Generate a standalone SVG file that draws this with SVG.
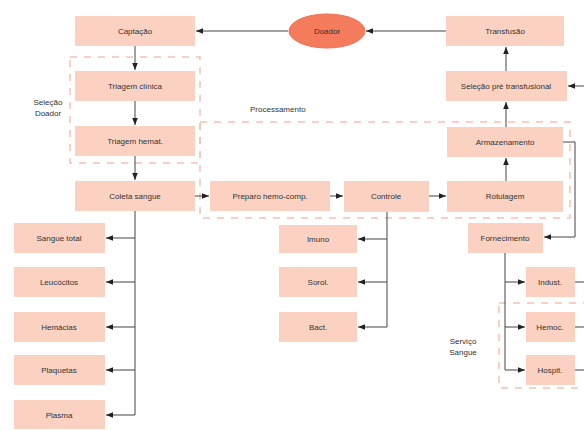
<svg xmlns="http://www.w3.org/2000/svg" width="584" height="430" viewBox="0 0 584 430">
<style>
.b{fill:#fbd2c1}
.t{font-family:"Liberation Sans",Arial,sans-serif;font-size:8px;fill:#333;text-anchor:middle;dominant-baseline:central}
.l{font-family:"Liberation Sans",Arial,sans-serif;font-size:8px;fill:#333}
.d{fill:none;stroke:#f2c3b3;stroke-width:1.5;stroke-dasharray:7,7}
.c{fill:none;stroke:#444;stroke-width:1;marker-end:url(#a)}
.n{fill:none;stroke:#444;stroke-width:1}
</style>
<defs>
<marker id="a" viewBox="0 0 10 10" refX="10" refY="5" markerWidth="7" markerHeight="7" orient="auto" markerUnits="userSpaceOnUse">
<path d="M0,1 L10,5 L0,9 z" fill="#222"/>
</marker>
</defs>
<rect width="584" height="430" fill="#fff"/>
<g id="groups">
<rect class="d" x="70" y="57" width="130" height="106"/>
<text class="l" x="48" y="105" text-anchor="middle">Seleção</text>
<text class="l" x="48" y="116" text-anchor="middle">Doador</text>
<rect class="d" x="200" y="122" width="370" height="96"/>
<text class="l" x="250" y="112">Processamento</text>
<rect class="d" x="499" y="303" width="95" height="85"/>
<text class="l" x="463" y="344" text-anchor="middle">Serviço</text>
<text class="l" x="463" y="355" text-anchor="middle">Sangue</text>
</g>
<g id="connectors">
<path class="c" d="M288,31 H196"/>
<path class="c" d="M446,31 H366"/>
<path class="c" d="M506,71 V47"/>
<path class="c" d="M506,127 V102"/>
<path class="c" d="M506,181 V158"/>
<path class="c" d="M429,196 H446"/>
<path class="c" d="M330,196 H343"/>
<path class="c" d="M195,196 H209"/>
<path class="c" d="M135,46 V70"/>
<path class="c" d="M135,101 V125"/>
<path class="c" d="M135,156 V180"/>
<path class="n" d="M135,211 V415"/>
<path class="c" d="M135,238 H106"/>
<path class="c" d="M135,282 H106"/>
<path class="c" d="M135,327 H106"/>
<path class="c" d="M135,370 H106"/>
<path class="c" d="M135,415 H106"/>
<path class="n" d="M387,212 V327"/>
<path class="c" d="M387,239 H358"/>
<path class="c" d="M387,282 H358"/>
<path class="c" d="M387,327 H358"/>
<path class="c" d="M563,142 H575 V237 H544"/>
<path class="c" d="M584,86 H568"/>
<path class="n" d="M505,253 V370"/>
<path class="c" d="M505,282 H525"/>
<path class="c" d="M505,327 H525"/>
<path class="c" d="M505,370 H525"/>
<path class="n" d="M575,282 H584"/>
<path class="n" d="M575,327 H584"/>
<path class="n" d="M575,370 H584"/>
</g>
<g id="doador"><ellipse cx="327" cy="31" rx="38" ry="17" fill="#f47b5b" stroke="#ec7454"/><text class="t" x="327" y="31">Doador</text></g>
<g id="captacao"><rect class="b" x="75" y="16" width="120" height="30"/><text class="t" x="135" y="31">Captação</text></g>
<g id="transfusao"><rect class="b" x="446" y="16" width="118" height="30"/><text class="t" x="505" y="31">Transfusão</text></g>
<g id="selecao-pre"><rect class="b" x="446" y="71" width="121" height="30"/><text class="t" x="506" y="86">Seleção pré transfusional</text></g>
<g id="triagem-clinica"><rect class="b" x="75" y="71" width="120" height="30"/><text class="t" x="135" y="86">Triagem clínica</text></g>
<g id="triagem-hemat"><rect class="b" x="75" y="126" width="120" height="30"/><text class="t" x="135" y="141">Triagem hemat.</text></g>
<g id="armazenamento"><rect class="b" x="447" y="127" width="116" height="30"/><text class="t" x="505" y="142">Armazenamento</text></g>
<g id="coleta"><rect class="b" x="75" y="181" width="120" height="30"/><text class="t" x="135" y="196">Coleta sangue</text></g>
<g id="preparo"><rect class="b" x="210" y="181" width="120" height="30"/><text class="t" x="270" y="196">Preparo hemo-comp.</text></g>
<g id="controle"><rect class="b" x="344" y="181" width="85" height="31"/><text class="t" x="386" y="196">Controle</text></g>
<g id="rotulagem"><rect class="b" x="447" y="181" width="116" height="31"/><text class="t" x="505" y="196">Rotulagem</text></g>
<g id="fornecimento"><rect class="b" x="468" y="223" width="75" height="30"/><text class="t" x="505" y="238">Fornecimento</text></g>
<g id="sangue-total"><rect class="b" x="14" y="223" width="91" height="30"/><text class="t" x="59" y="238">Sangue total</text></g>
<g id="leucocitos"><rect class="b" x="14" y="267" width="91" height="30"/><text class="t" x="59" y="282">Leucócitos</text></g>
<g id="hemacias"><rect class="b" x="14" y="312" width="91" height="30"/><text class="t" x="59" y="327">Hemácias</text></g>
<g id="plaquetas"><rect class="b" x="14" y="355" width="91" height="30"/><text class="t" x="59" y="370">Plaquetas</text></g>
<g id="plasma"><rect class="b" x="14" y="400" width="91" height="29"/><text class="t" x="59" y="415">Plasma</text></g>
<g id="imuno"><rect class="b" x="279" y="225" width="78" height="28"/><text class="t" x="318" y="239">Imuno</text></g>
<g id="sorol"><rect class="b" x="279" y="267" width="78" height="30"/><text class="t" x="318" y="282">Sorol.</text></g>
<g id="bact"><rect class="b" x="279" y="312" width="78" height="30"/><text class="t" x="318" y="327">Bact.</text></g>
<g id="indust"><rect class="b" x="526" y="267" width="49" height="30"/><text class="t" x="550" y="282">Indust.</text></g>
<g id="hemoc"><rect class="b" x="526" y="312" width="49" height="30"/><text class="t" x="550" y="327">Hemoc.</text></g>
<g id="hospit"><rect class="b" x="526" y="355" width="49" height="30"/><text class="t" x="550" y="370">Hospit.</text></g>
</svg>
